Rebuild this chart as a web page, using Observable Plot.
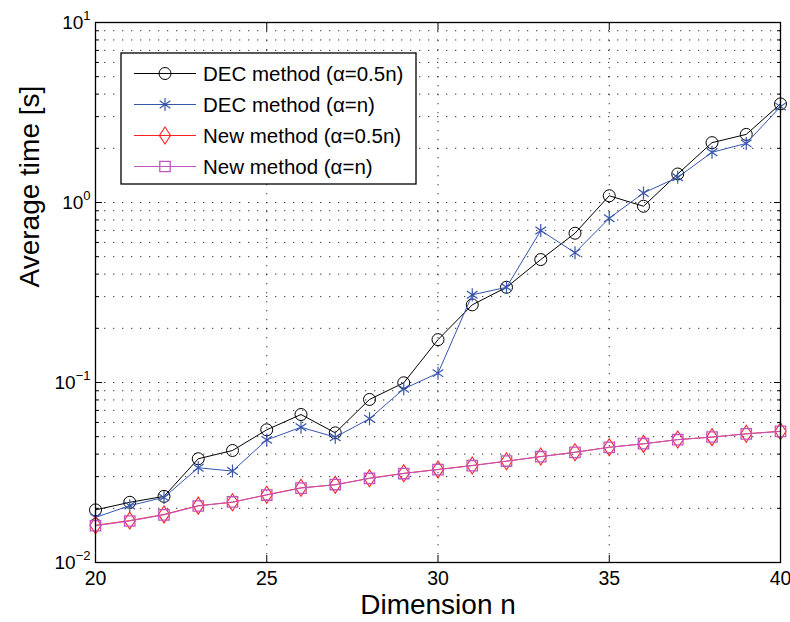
<!DOCTYPE html>
<html><head><meta charset="utf-8">
<script src="https://cdn.jsdelivr.net/npm/d3@7"></script>
<script src="https://cdn.jsdelivr.net/npm/@observablehq/plot@0.6"></script>
<style>body{margin:0;background:#fff;} #chart{width:790px;height:622px;}</style>
</head><body><div id="chart"></div>
<script>
const dims = [20,21,22,23,24,25,26,27,28,29,30,31,32,33,34,35,36,37,38,39,40];
const decHalf = [0.0196,0.0216,0.0233,0.0377,0.0419,0.0546,0.0664,0.0525,0.0805,0.0996,0.173,0.270,0.338,0.482,0.675,1.09,0.953,1.44,2.15,2.39,3.53];
const decFull = [0.0178,0.0207,0.0230,0.0336,0.0322,0.0480,0.0564,0.0497,0.0629,0.0922,0.1127,0.307,0.338,0.699,0.526,0.818,1.13,1.38,1.90,2.13,3.41];
const newHalf = [0.0161,0.0171,0.0185,0.0207,0.0216,0.0238,0.0260,0.0270,0.0294,0.0313,0.0329,0.0346,0.0365,0.0388,0.0410,0.0437,0.0456,0.0482,0.0497,0.0519,0.0536];
const newFull = [0.0160,0.0170,0.0184,0.0206,0.0217,0.0237,0.0259,0.0271,0.0293,0.0312,0.0328,0.0345,0.0366,0.0387,0.0409,0.0436,0.0457,0.0481,0.0498,0.0518,0.0535];
const seriesNames = ["DEC method (\u03b1=0.5n)","DEC method (\u03b1=n)","New method (\u03b1=0.5n)","New method (\u03b1=n)"];
const xTicks = [20,25,30,35,40];
const yTicks = [0.01,0.1,1,10];
const yTickBase = "10";
const yTickExps = ["\u22122","\u22121","0","1"];
const xLabel = "Dimension n";
const yLabel = "Average time [s]";

// symbols
const circleSym = {draw(c,s){const r=Math.sqrt(s/Math.PI);c.moveTo(r,0);c.arc(0,0,r,0,2*Math.PI);}};
const asteriskSym = {draw(c,s){const r=Math.sqrt(s/Math.PI);for(const a of [90,35,-35]){const t=a*Math.PI/180,dx=r*Math.cos(t),dy=r*Math.sin(t);c.moveTo(-dx,-dy);c.lineTo(dx,dy);}}};
const diamondSym = {draw(c,s){const r=Math.sqrt(s/Math.PI);const w=r*0.75,h=r*1.15;c.moveTo(0,-h);c.lineTo(w,0);c.lineTo(0,h);c.lineTo(-w,0);c.closePath();}};
const squareSym = {draw(c,s){const r=Math.sqrt(s/Math.PI);c.rect(-r,-r,2*r,2*r);}};

const styles = [
  {color:"#000000", sym:circleSym, r:6.0, w:1},
  {color:"#3656ac", sym:asteriskSym, r:6.5, w:1.2},
  {color:"#ff2222", sym:diamondSym, r:7.4, w:1.1},
  {color:"#c055c0", sym:squareSym, r:5.2, w:1.3}
];
const seriesValues = [decHalf, decFull, newHalf, newFull];
const rows = seriesValues.map((vals,k)=>vals.map((v,i)=>({n:dims[i], v, s:k})));

const minorAll = [];
for (let e=-2;e<1;e++) for (let m=1;m<10;m++) minorAll.push(+(m*Math.pow(10,e)).toPrecision(3));
const gridYVals = minorAll.filter(d=>d>0.01);
const minorOnly = minorAll.filter(d=>!yTicks.includes(d));

const font = "'Liberation Sans', Arial, Helvetica, sans-serif";
const dotted = {stroke:"#000", strokeOpacity:0.8, strokeDasharray:"1.3,7.7", strokeWidth:1};
const seriesMarks = [];
rows.forEach((data,k)=>{
  const st = styles[k];
  seriesMarks.push(Plot.line(data,{x:"n",y:"v",stroke:st.color,strokeWidth:1}));
  seriesMarks.push(Plot.dot(data,{x:"n",y:"v",stroke:st.color,fill:"none",symbol:st.sym,r:st.r,strokeWidth:st.w}));
});

const plot = Plot.plot({
  width:790, height:622, marginLeft:95, marginRight:10, marginTop:22, marginBottom:60,
  style:{fontFamily:font, background:"#fff", color:"#000"},
  x:{domain:[20,40]},
  y:{type:"log", domain:[0.01,10]},
  marks:[
    Plot.gridX(xTicks.slice(1,-1), dotted),
    Plot.gridY(gridYVals, dotted),
    Plot.axisX(xTicks,{anchor:"bottom",tickSize:0,tickPadding:9,fontSize:19.5,label:null}),
    Plot.axisY(yTicks,{anchor:"left",tickSize:0,tickPadding:5,fontSize:19,label:null,tickFormat:()=>yTickBase}),
    Plot.axisX(xTicks,{anchor:"bottom",tickSize:-7,tickFormat:()=>"",label:null}),
    Plot.axisX(xTicks,{anchor:"top",tickSize:-7,tickFormat:()=>"",label:null}),
    Plot.axisY(yTicks,{anchor:"left",tickSize:-7,tickFormat:()=>"",label:null}),
    Plot.axisY(yTicks,{anchor:"right",tickSize:-7,tickFormat:()=>"",label:null}),
    Plot.axisY(minorOnly,{anchor:"left",tickSize:-4,tickFormat:()=>"",label:null}),
    Plot.axisY(minorOnly,{anchor:"right",tickSize:-4,tickFormat:()=>"",label:null}),
    ...seriesMarks,
    Plot.frame({stroke:"#000",strokeWidth:1.3}),
    Plot.text([xLabel],{text:d=>d,frameAnchor:"bottom",dy:43,lineAnchor:"middle",fontSize:28}),
    Plot.text([yLabel],{text:d=>d,frameAnchor:"left",dx:-65,dy:-5,rotate:-90,lineAnchor:"middle",fontSize:28})
  ]
});
document.getElementById("chart").appendChild(plot);

const svg = d3.select(plot);
// enforce tick label font sizes
svg.selectAll('g[aria-label="x-axis tick label"]').attr("font-size",19.5).selectAll("text").style("font-size","19.5px");
svg.selectAll('g[aria-label="y-axis tick label"]').attr("font-size",19).selectAll("text").style("font-size","19px");
// superscript exponents on y tick labels
const labelTexts = svg.selectAll('g[aria-label="y-axis tick label"] text').nodes();
labelTexts.forEach((el,i)=>{
  if (el.textContent !== yTickBase) return;
  d3.select(el).append("tspan").attr("dy",-9).style("font-size","13px").text(yTickExps[i]);
});

// legend
const leg = svg.append("g").attr("font-family",font).attr("font-size",20.5).attr("text-anchor","start");
leg.append("rect").attr("x",121).attr("y",53).attr("width",295).attr("height",131)
  .attr("fill","#fff").attr("stroke","#000").attr("stroke-width",1.3);
seriesNames.forEach((name,k)=>{
  const st = styles[k];
  const y = 73.5 + k*31;
  leg.append("line").attr("x1",134).attr("x2",196).attr("y1",y).attr("y2",y).attr("stroke",st.color).attr("stroke-width",1);
  leg.append("path").attr("transform",`translate(165,${y})`)
    .attr("d",d3.symbol().type(st.sym).size(st.r*st.r*Math.PI)())
    .attr("fill","none").attr("stroke",st.color).attr("stroke-width",st.w);
  leg.append("text").attr("x",203).attr("y",y).attr("dy","0.36em").attr("fill","#000").attr("text-anchor","start").style("font-size","20.5px").text(name);
});
</script></body></html>
